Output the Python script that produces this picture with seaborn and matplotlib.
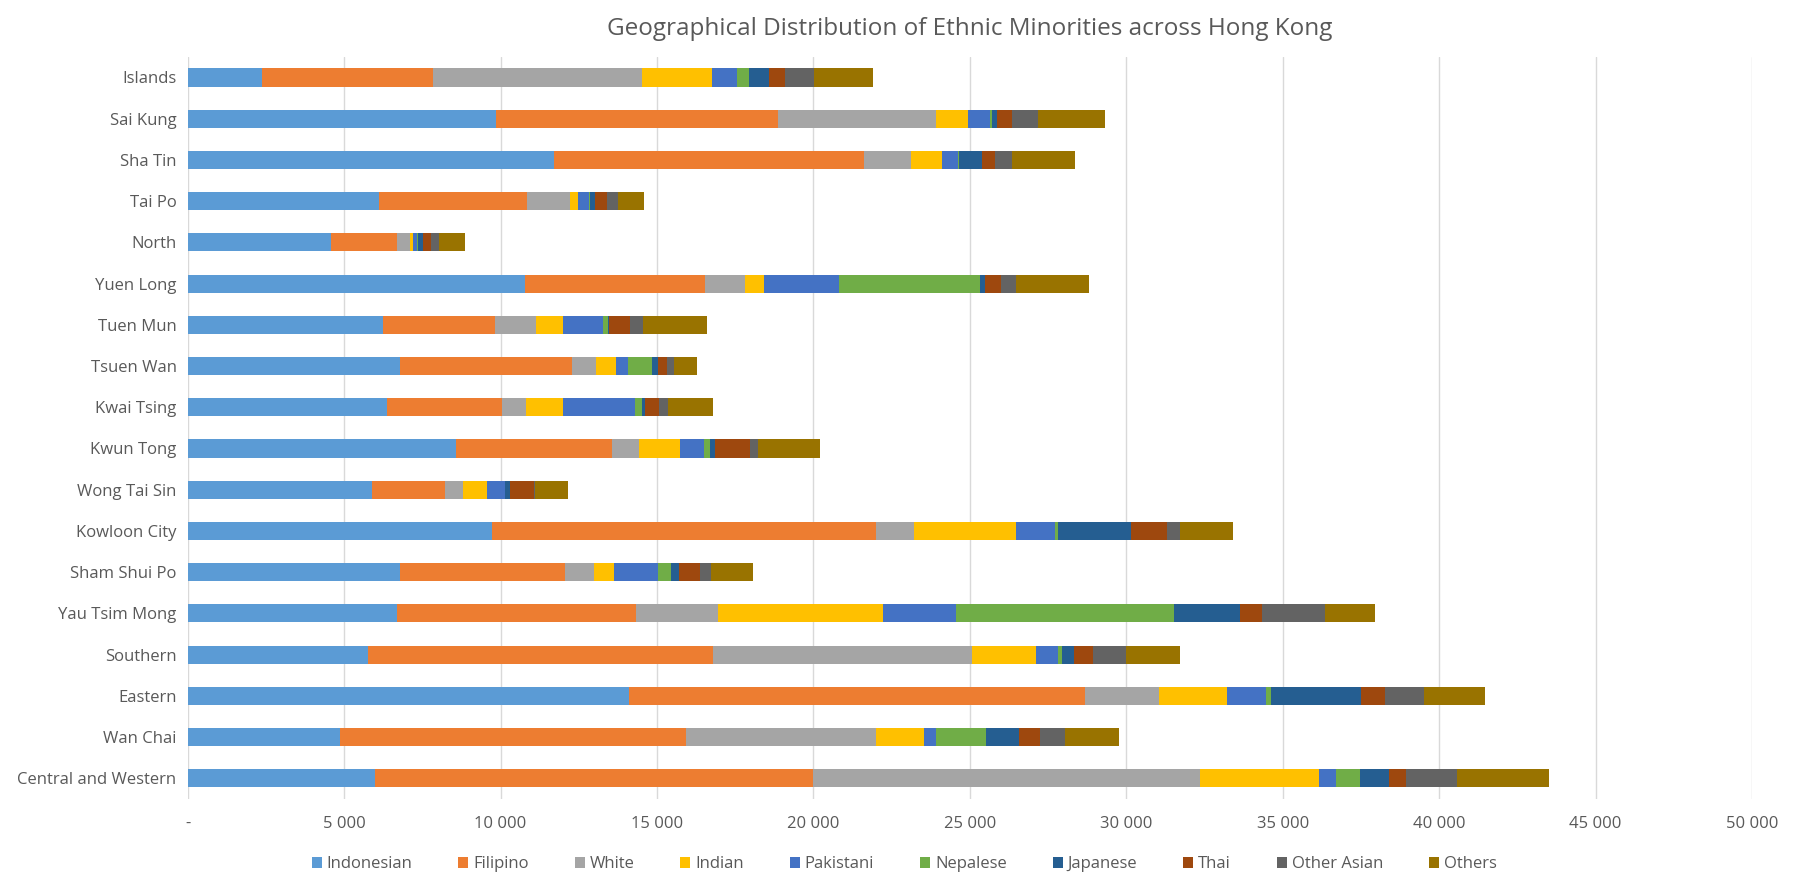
import matplotlib
matplotlib.use("Agg")
import matplotlib.pyplot as plt
from matplotlib.ticker import FuncFormatter, MultipleLocator
import pandas as pd
import numpy as np
import seaborn as sns

districts = ["Islands", "Sai Kung", "Sha Tin", "Tai Po", "North", "Yuen Long", "Tuen Mun",
             "Tsuen Wan", "Kwai Tsing", "Kwun Tong", "Wong Tai Sin", "Kowloon City",
             "Sham Shui Po", "Yau Tsim Mong", "Southern", "Eastern", "Wan Chai",
             "Central and Western"]

groups = ["Indonesian", "Filipino", "White", "Indian", "Pakistani", "Nepalese",
          "Japanese", "Thai", "Other Asian", "Others"]

indonesian = [2380, 9870, 11700, 6120, 4580, 10770, 6250, 6780, 6360, 8570, 5880, 9730, 6780, 6680, 5750, 14100, 4870, 5990]
filipino = [5460, 8990, 9930, 4720, 2120, 5750, 3570, 5490, 3690, 4980, 2360, 12270, 5270, 7660, 11040, 14580, 11060, 13990]
white = [6680, 5060, 1480, 1380, 410, 1280, 1320, 790, 770, 880, 570, 1200, 930, 2620, 8280, 2380, 6060, 12390]
indian = [2240, 1010, 1000, 250, 90, 610, 860, 640, 1180, 1320, 770, 3270, 660, 5280, 2050, 2170, 1540, 3780]
pakistani = [800, 710, 520, 370, 140, 2400, 1280, 380, 2300, 750, 550, 1250, 1400, 2310, 690, 1250, 400, 540]
nepalese = [390, 60, 30, 20, 10, 4510, 140, 760, 220, 180, 20, 90, 400, 6970, 120, 150, 1600, 770]
japanese = [640, 170, 730, 160, 180, 150, 40, 200, 110, 190, 140, 2330, 270, 2100, 400, 2880, 1040, 940]
thai = [510, 480, 410, 370, 250, 520, 680, 270, 440, 1100, 770, 1170, 680, 730, 620, 750, 670, 550]
other_asian = [920, 830, 550, 380, 260, 480, 420, 220, 280, 270, 50, 420, 330, 2010, 1050, 1270, 800, 1620]
others = [1880, 2130, 2020, 830, 840, 2330, 2030, 750, 1440, 1960, 1050, 1690, 1340, 1580, 1710, 1920, 1740, 2940]

colors = ["#5B9BD5", "#ED7D31", "#A5A5A5", "#FFC000", "#4472C4", "#70AD47",
          "#255E91", "#9E480E", "#636363", "#997300"]

df = pd.DataFrame({"District": districts})
for g, vals in zip(groups, [indonesian, filipino, white, indian, pakistani, nepalese,
                            japanese, thai, other_asian, others]):
    df[g] = vals
cum = df[groups].cumsum(axis=1)
cum["District"] = df["District"]

sns.set_theme(style="white")
plt.rcParams['font.family'] = ['Open Sans', 'DejaVu Sans']

fig = plt.figure(figsize=(17.94, 8.75), dpi=100)
ax = fig.add_axes([0.1046, 0.087, 0.872, 0.848])

# stacked bars: draw cumulative totals from last group to first
for g, c in reversed(list(zip(groups, colors))):
    sns.barplot(data=cum, y="District", x=g, order=districts, color=c, width=0.44,
                saturation=1, errorbar=None, label=g, ax=ax, linewidth=0)

ax.set_xlim(0, 50000)
ax.set_ylim(17.5, -0.5)
ax.xaxis.set_major_locator(MultipleLocator(5000))
ax.xaxis.set_major_formatter(FuncFormatter(lambda v, p: "-" if v == 0 else f"{int(v):,}".replace(",", " ")))
ax.xaxis.grid(True, color="#D9D9D9", lw=1)
ax.set_axisbelow(True)
for s in ax.spines.values():
    s.set_visible(False)
ax.set_xlabel("")
ax.set_ylabel("")
ax.tick_params(axis="both", length=0, labelsize=12, colors="#595959")
ax.tick_params(axis="x", pad=12)
ax.tick_params(axis="y", pad=8)

ax.set_title("Geographical Distribution of Ethnic Minorities across Hong Kong",
             fontsize=17.5, color="#595959", pad=16)

handles, labels = ax.get_legend_handles_labels()
order = [labels.index(g) for g in groups]
ax.legend([handles[i] for i in order], groups, loc="center", bbox_to_anchor=(0.504, 0.012),
          bbox_transform=fig.transFigure, ncol=10, frameon=False, fontsize=12,
          handlelength=0.6, handleheight=0.6, handletextpad=0.3, columnspacing=2.75,
          labelcolor="#595959")

fig.savefig("out.png", dpi=100)
